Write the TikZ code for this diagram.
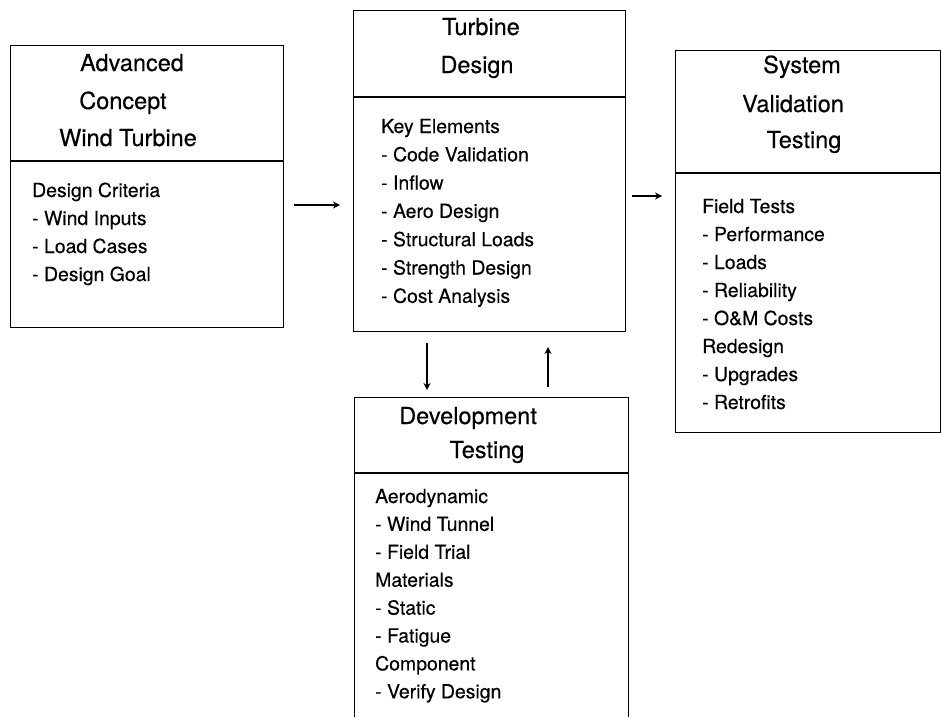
\documentclass[tikz,border=0pt]{standalone}
\usepackage{fontspec}
\setmainfont{TeX Gyre Heros}[FakeBold=0.3]
\usetikzlibrary{arrows.meta}

\tikzset{
  box/.style={draw, line width=0.8pt, inner sep=0pt, outer sep=0pt, anchor=north west},
  divider/.style={line width=2.4pt},
  title/.style={anchor=base, inner sep=0pt, font=\fontsize{23.5}{27}\selectfont},
  body/.style={anchor=base west, inner sep=0pt, font=\fontsize{19.4}{23}\selectfont},
  flow/.style={line width=2.3pt, -{Stealth[length=7pt,width=7pt]}}
}

\begin{document}
\begin{tikzpicture}[x=1pt,y=-1pt]
\useasboundingbox (0,0) rectangle (941,717);

%the four boxes
\node[box, minimum width=273pt, minimum height=282pt] (adv) at (10,45) {};
\node[box, minimum width=272pt, minimum height=321pt] (design) at (353,10) {};
\node[box, minimum width=265pt, minimum height=382pt] (valid) at (675,50) {};
\node[box, draw=none, minimum width=274pt, minimum height=320pt] (dev) at (354,397) {};
\draw[line width=0.8pt] (dev.south west) -- (dev.north west) -- (dev.north east) -- (dev.south east);

%heading lines
\draw[divider] ([yshift=-116pt]adv.north west) -- ([yshift=-116pt]adv.north east);
\draw[divider] ([yshift=-87pt]design.north west) -- ([yshift=-87pt]design.north east);
\draw[divider] ([yshift=-123pt]valid.north west) -- ([yshift=-123pt]valid.north east);
\draw[divider] ([yshift=-76pt]dev.north west) -- ([yshift=-76pt]dev.north east);

%headings
\foreach \txt/\x/\y [count=\i] in {Advanced/132/71, Concept/123/109, Wind Turbine/128/146}
  \node[title] (advt\i) at (\x,\y) {\txt};
\foreach \txt/\x/\y [count=\i] in {Turbine/481/35, Design/477/73}
  \node[title] (designt\i) at (\x,\y) {\txt};
\foreach \txt/\x/\y [count=\i] in {System/802/73, Validation/793/112, Testing/804/148}
  \node[title] (validt\i) at (\x,\y) {\txt};
\foreach \txt/\x/\y [count=\i] in {Development/468/424, Testing/487/458}
  \node[title] (devt\i) at (\x,\y) {\txt};

%box contents
\foreach \txt [count=\i from 0] in {Design Criteria, - Wind Inputs, - Load Cases, - Design Goal}
  \node[body] (advb\i) at (32,{197+28*\i}) {\txt};
\foreach \txt [count=\i from 0] in {Key Elements, - Code Validation, - Inflow, - Aero Design,
    - Structural Loads, - Strength Design, - Cost Analysis}
  \node[body] (designb\i) at (381,{133+28.3*\i}) {\txt};
\foreach \txt [count=\i from 0] in {Field Tests, - Performance, - Loads, - Reliability,
    - O\&M Costs, Redesign, - Upgrades, - Retrofits}
  \node[body] (validb\i) at (702,{213+28*\i}) {\txt};
\foreach \txt [count=\i from 0] in {Aerodynamic, - Wind Tunnel, - Field Trial, Materials,
    - Static, - Fatigue, Component, - Verify Design}
  \node[body] (devb\i) at (375,{503+27.9*\i}) {\txt};

%arrows between the boxes
\coordinate (row1) at (0,205);
\coordinate (row2) at (0,196);
\coordinate (col1) at (427,0);
\coordinate (col2) at (548,0);
\draw[flow, shorten <=11pt, shorten >=13pt] (adv.east |- row1) -- (design.west |- row1);
\draw[flow, shorten <=7pt, shorten >=13pt] (design.east |- row2) -- (valid.west |- row2);
\draw[flow, shorten <=12pt, shorten >=7pt] (design.south -| col1) -- (dev.north -| col1);
\draw[flow, shorten <=10pt, shorten >=16pt] (dev.north -| col2) -- (design.south -| col2);

\end{tikzpicture}
\end{document}
